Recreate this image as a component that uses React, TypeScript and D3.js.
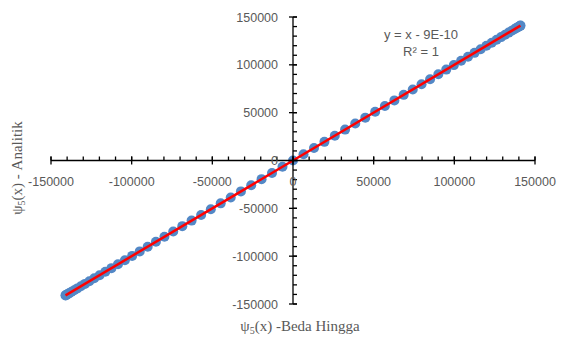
import React from "react";
import * as d3 from "d3";

// ψ5(x) from the finite-difference solution (x) vs. the analytic solution (y)
const bedaHingga: number[] = [
  -141000, -140849, -140398, -139646, -138599, -137252, -135618, -133692, -131478,
  -128990, -126218, -123176, -119881, -116324, -112521, -108478, -104200, -99702,
  -94992, -90076, -84971, -79683, -74227, -68609, -62848, -56953, -50935, -44807,
  -38586, -32281, -25909, -19480, -13010, -6512, 0, 6512, 13010, 19480, 25909,
  32281, 38586, 44807, 50935, 56953, 62848, 68609, 74227, 79683, 84971, 90076,
  94992, 99702, 104200, 108478, 112521, 116324, 119881, 123176, 126218, 128990,
  131478, 133692, 135618, 137252, 138599, 139646, 140398, 140849, 141000,
];
const analitik: number[] = [
  -141000, -140849, -140398, -139646, -138599, -137252, -135618, -133692, -131478,
  -128990, -126218, -123176, -119881, -116324, -112521, -108478, -104200, -99702,
  -94992, -90076, -84971, -79683, -74227, -68609, -62848, -56953, -50935, -44807,
  -38586, -32281, -25909, -19480, -13010, -6512, 0, 6512, 13010, 19480, 25909,
  32281, 38586, 44807, 50935, 56953, 62848, 68609, 74227, 79683, 84971, 90076,
  94992, 99702, 104200, 108478, 112521, 116324, 119881, 123176, 126218, 128990,
  131478, 133692, 135618, 137252, 138599, 139646, 140398, 140849, 141000,
];

const majorTicks = [-150000, -100000, -50000, 0, 50000, 100000, 150000];
const minorTicks = d3.range(-150000, 150001, 10000);

// trendline: y = x - 9E-10
const slope = 1;
const intercept = -9e-10;
const equationLines = ["y = x - 9E-10", "R² = 1"];

const W = 565;
const H = 338;

export default function App() {
  const x = d3.scaleLinear().domain([-150000, 150000]).range([51, 535]);
  const y = d3.scaleLinear().domain([-150000, 150000]).range([304, 17]);
  const x0 = x(0);
  const y0 = y(0);

  const xMin = d3.min(bedaHingga) as number;
  const xMax = d3.max(bedaHingga) as number;
  const trend = d3
    .line<number>()
    .x((d) => x(d))
    .y((d) => y(slope * d + intercept))([xMin, xMax]);

  const tickFont = "'Liberation Sans', Arial, sans-serif";
  const titleFont = "'Liberation Serif', 'DejaVu Serif', serif";
  const grey = "#595959";

  return (
    <svg
      width={W}
      height={H}
      style={{ position: "absolute", left: 0, top: 0, background: "#fff" }}
    >
      {/* data points */}
      <g>
        {bedaHingga.map((v, i) => (
          <circle key={i} cx={x(v)} cy={y(analitik[i])} r={5} fill="#5388C6" />
        ))}
      </g>
      {/* linear trendline */}
      <path d={trend ?? ""} stroke="#FF0000" strokeWidth={2.5} fill="none" />

      {/* axes */}
      <g stroke="#000" strokeWidth={1.3}>
        <line x1={x(-150000)} x2={x(150000)} y1={y0} y2={y0} />
        {minorTicks.map((t) => (
          <line key={"xm" + t} x1={x(t)} x2={x(t)} y1={y0 - 4} y2={y0} />
        ))}
        {majorTicks.map((t) => (
          <line key={"xM" + t} x1={x(t)} x2={x(t)} y1={y0 - 4} y2={y0 + 4} />
        ))}
        <line x1={x0} x2={x0} y1={y(150000)} y2={y(-150000)} />
        {minorTicks.map((t) => (
          <line key={"ym" + t} x1={x0} x2={x0 + 4} y1={y(t)} y2={y(t)} />
        ))}
        {majorTicks.map((t) => (
          <line key={"yM" + t} x1={x0 - 4} x2={x0 + 4} y1={y(t)} y2={y(t)} />
        ))}
      </g>

      {/* tick labels */}
      <g fontFamily={tickFont} fontSize={12.5} fill={grey}>
        {majorTicks.map((t) => (
          <text key={"xl" + t} x={x(t)} y={y0 + 25} textAnchor="middle">
            {t}
          </text>
        ))}
        {majorTicks.map((t) => (
          <text key={"yl" + t} x={x0 - 15} y={y(t) + 4.5} textAnchor="end">
            {t}
          </text>
        ))}
      </g>

      {/* trendline equation */}
      <g fontFamily={tickFont} fontSize={13} fill={grey} textAnchor="middle">
        <text x={421} y={39}>{equationLines[0]}</text>
        <text x={421} y={56}>{equationLines[1]}</text>
      </g>

      {/* axis titles */}
      <g fontFamily={titleFont} fontSize={15} fill={grey}>
        <text x={300} y={331} textAnchor="middle">
          ψ<tspan fontSize={10} dy={3}>5</tspan>
          <tspan dy={-3}>(x) -Beda Hingga</tspan>
        </text>
        <text
          transform={`translate(22, 168) rotate(-90)`}
          textAnchor="middle"
        >
          ψ<tspan fontSize={10} dy={3}>5</tspan>
          <tspan dy={-3}>(x) - Analitik</tspan>
        </text>
      </g>
    </svg>
  );
}
